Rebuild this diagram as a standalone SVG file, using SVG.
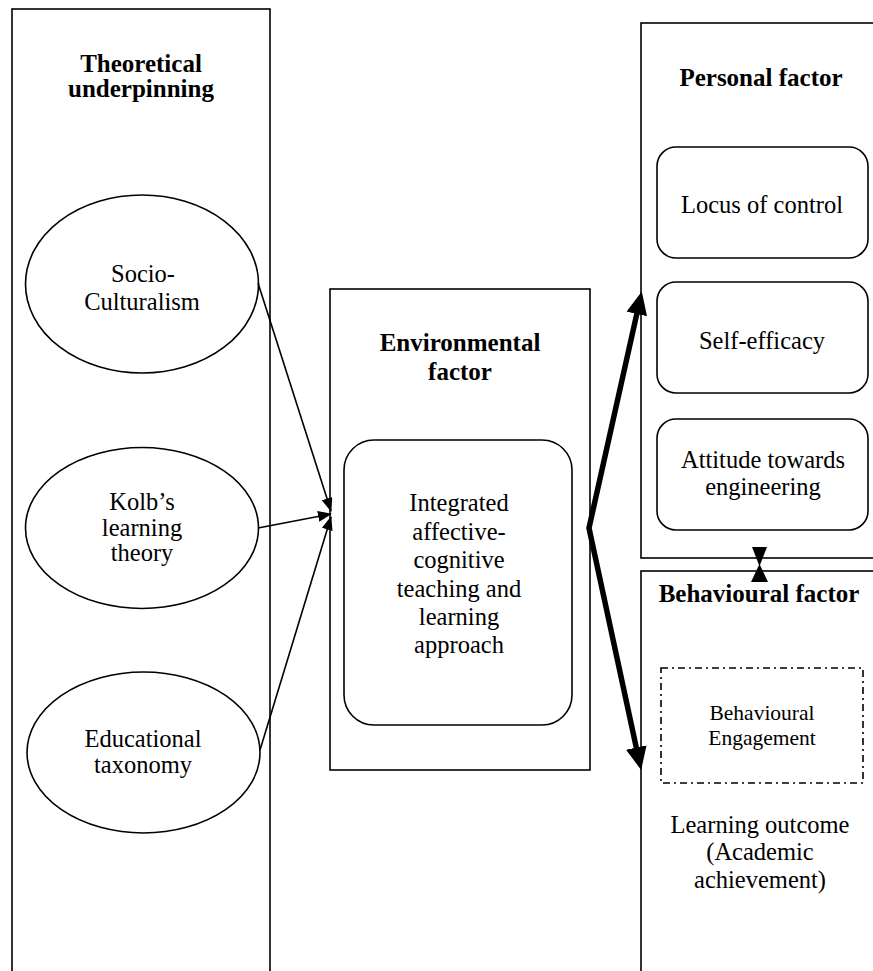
<svg xmlns="http://www.w3.org/2000/svg" width="873" height="971" viewBox="0 0 873 971">
<defs>
<style>
.box{fill:#fff;stroke:#000;stroke-width:1.6}
.rr{fill:#fff;stroke:#000;stroke-width:1.6}
.t{font-family:"Liberation Serif","Times New Roman",serif;font-size:24.5px;fill:#000;text-anchor:middle}
.b{font-weight:bold;font-size:25px}
.s{font-size:21.5px}
.thin{fill:none;stroke:#000;stroke-width:1.6}
.thick{fill:none;stroke:#000;stroke-width:5.5;stroke-linejoin:miter}
</style>
<marker id="ah" markerUnits="userSpaceOnUse" markerWidth="14" markerHeight="11" viewBox="0 0 14 11" refX="13" refY="5.5" orient="auto"><path d="M0,0 L14,5.5 L0,11 z" fill="#000"/></marker>
<marker id="big" markerUnits="userSpaceOnUse" markerWidth="23" markerHeight="21" viewBox="0 0 23 21" refX="1" refY="10.5" orient="auto-start-reverse"><path d="M0,0 L23,10.5 L0,21 z" fill="#000"/></marker>
</defs>
<rect width="873" height="971" fill="#fff"/>

<g id="theoretical">
<rect class="box" x="12" y="9" width="258" height="1000"/>
<text class="t b" x="141" y="72">Theoretical</text>
<text class="t b" x="141" y="97">underpinning</text>
</g>
<g id="socio">
<ellipse class="box" cx="142" cy="284" rx="116.5" ry="89"/>
<text class="t" x="143" y="282">Socio-</text>
<text class="t" x="142" y="310">Culturalism</text>
</g>
<g id="kolb">
<ellipse class="box" cx="142" cy="528" rx="116.5" ry="80.5"/>
<text class="t" x="142" y="510">Kolb’s</text>
<text class="t" x="142" y="536">learning</text>
<text class="t" x="142" y="561">theory</text>
</g>
<g id="educational">
<ellipse class="box" cx="143.5" cy="752.5" rx="116.5" ry="80.5"/>
<text class="t" x="143" y="747">Educational</text>
<text class="t" x="143" y="773">taxonomy</text>
</g>

<g id="environmental">
<rect class="box" x="330" y="289" width="260" height="481"/>
<text class="t b" x="460" y="351">Environmental</text>
<text class="t b" x="460" y="380">factor</text>
</g>
<g id="integrated">
<rect class="rr" x="344" y="440" width="228" height="285" rx="30" ry="30"/>
<text class="t" x="459" y="511">Integrated</text>
<text class="t" x="459" y="540">affective-</text>
<text class="t" x="459" y="568">cognitive</text>
<text class="t" x="459" y="597">teaching and</text>
<text class="t" x="459" y="625">learning</text>
<text class="t" x="459" y="653">approach</text>
</g>

<g id="personal">
<rect class="box" x="641" y="23" width="250" height="535"/>
<text class="t b" x="761" y="86">Personal factor</text>
</g>
<g id="locus">
<rect class="rr" x="657" y="147" width="211" height="111" rx="19" ry="19"/>
<text class="t" x="762" y="213">Locus of control</text>
</g>
<g id="selfefficacy">
<rect class="rr" x="657" y="282" width="211" height="111" rx="19" ry="19"/>
<text class="t" x="762" y="349">Self-efficacy</text>
</g>
<g id="attitude">
<rect class="rr" x="657" y="419" width="211" height="111" rx="19" ry="19"/>
<text class="t" x="763" y="468">Attitude towards</text>
<text class="t" x="763" y="495">engineering</text>
</g>

<g id="behavioural">
<rect class="box" x="641" y="571" width="250" height="450"/>
<text class="t b" x="759" y="602">Behavioural factor</text>
<text class="t" x="760" y="833">Learning outcome</text>
<text class="t" x="760" y="860">(Academic</text>
<text class="t" x="760" y="888">achievement)</text>
</g>
<g id="engagement">
<rect x="661" y="668" width="202" height="115" fill="none" stroke="#000" stroke-width="1.6" stroke-dasharray="7,4,2,4"/>
<text class="t s" x="762" y="720">Behavioural</text>
<text class="t s" x="762" y="745">Engagement</text>
</g>

<g id="connectors">
<line class="thin" x1="258" y1="283" x2="331" y2="511" marker-end="url(#ah)"/>
<line class="thin" x1="258" y1="528" x2="331" y2="514" marker-end="url(#ah)"/>
<line class="thin" x1="260" y1="750" x2="331" y2="517" marker-end="url(#ah)"/>
<path class="thick" d="M637,313 L589,528 L636.5,748.5" marker-start="url(#big)" marker-end="url(#big)"/>
<polygon points="752,547 767,547 760,565 768,582 751,582 759,565" fill="#000"/>
</g>
</svg>
